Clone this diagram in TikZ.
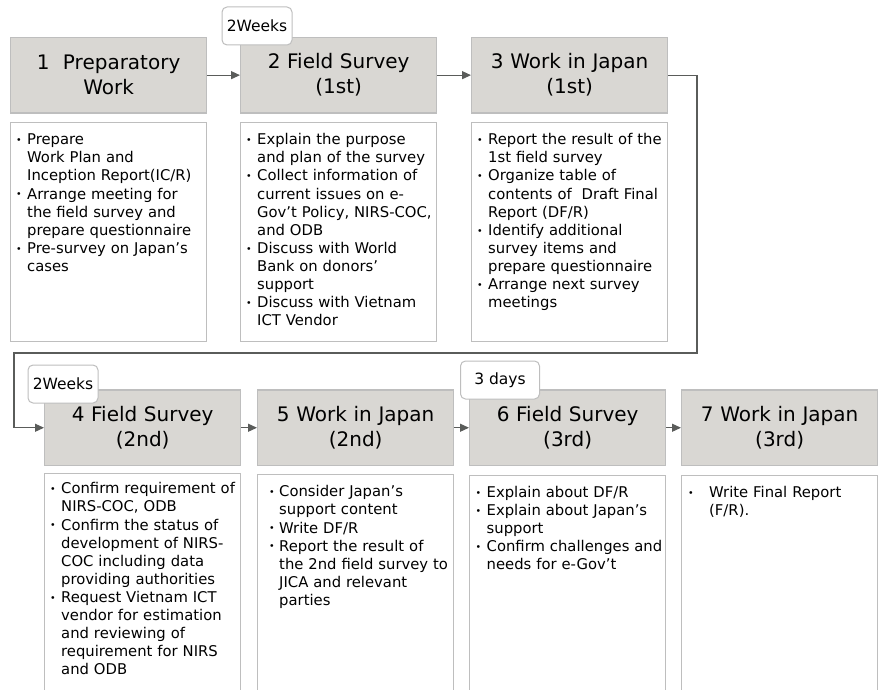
\documentclass[tikz,border=0pt]{standalone}
\usepackage{fontspec}
\setmainfont{DejaVu Sans}
\usetikzlibrary{arrows.meta, positioning}

\definecolor{headfill}{RGB}{217,215,211}
\definecolor{edgegray}{RGB}{190,190,190}
\definecolor{linkgray}{RGB}{90,92,90}

% bullet item with hanging indent
\newcommand{\itm}[1][11pt]{\par\hangindent=#1\hangafter=1\noindent\makebox[#1][l]{\raisebox{1.2pt}{\fontsize{9.5}{9.5}\selectfont\textbullet}}\ignorespaces}

\begin{document}
\begin{tikzpicture}[x=1pt, y=-1pt,
  stephead/.style={draw=edgegray, line width=1.3pt, fill=headfill, minimum width=196pt, minimum height=75.6pt,
    text width=190pt, align=center, inner sep=0pt, anchor=north west, font=\fontsize{20}{25}\selectfont},
  notebox/.style={draw=edgegray, line width=1.2pt, minimum width=196pt, inner sep=0pt, anchor=north west},
  notetext/.style={anchor=north west, text width=190pt, inner sep=0pt, font=\fontsize{14.8}{18.1}\selectfont},
  timetag/.style={draw=edgegray, line width=1pt, fill=white, rounded corners=5pt, minimum height=38pt,
    inner sep=0pt, font=\fontsize{15.5}{18}\selectfont},
  flow/.style={draw=linkgray, line width=1.2pt, -{Triangle[length=9pt, width=8pt]}}]
  \useasboundingbox (0,0) rectangle (878,690);
  \clip (0,0) rectangle (878,690);

  % First row of steps
  \node[stephead] (s1) at (10,36.7) {1\ \ Preparatory\\Work};
  \node[stephead] (s2) at (240,36.7) {2 Field Survey\\(1st)};
  \node[stephead] (s3) at (471,36.7) {3 Work in Japan\\(1st)};

  \node[notebox, minimum height=219pt] (n1) at (10,122) {};
  \node[notebox, minimum height=219pt] (n2) at (240,122) {};
  \node[notebox, minimum height=219pt] (n3) at (471,122) {};

  \node[notetext] (t1) at ([shift={(6,4.5)}]n1.north west) {%
    \itm Prepare\newline Work Plan and\newline Inception Report(IC/R)
    \itm Arrange meeting for\newline the field survey and\newline prepare questionnaire
    \itm Pre-survey on Japan’s\newline cases\par};
  \node[notetext] (t2) at ([shift={(6,4.5)}]n2.north west) {%
    \itm Explain the purpose\newline and plan of the survey
    \itm Collect information of\newline current issues on e-\newline Gov’t Policy, NIRS-COC,\newline and ODB
    \itm Discuss with World\newline Bank on donors’\newline support
    \itm Discuss with Vietnam\newline ICT Vendor\par};
  \node[notetext] (t3) at ([shift={(6,4.5)}]n3.north west) {%
    \itm Report the result of the\newline 1st field survey
    \itm Organize table of\newline contents of\ \ Draft Final\newline Report (DF/R)
    \itm Identify additional\newline survey items and\newline prepare questionnaire
    \itm Arrange next survey\newline meetings\par};

  % Second row of steps
  \node[stephead] (s4) at (44,389.3) {4 Field Survey\\(2nd)};
  \node[stephead] (s5) at (257,389.3) {5 Work in Japan\\(2nd)};
  \node[stephead] (s6) at (469,389.3) {6 Field Survey\\(3rd)};
  \node[stephead] (s7) at (681,389.3) {7 Work in Japan\\(3rd)};

  \node[notebox, minimum height=240pt] (n4) at (44,472.5) {};
  \node[notebox, minimum height=240pt] (n5) at (257,473.5) {};
  \node[notebox, minimum height=240pt] (n6) at (469,475) {};
  \node[notebox, minimum height=240pt] (n7) at (681,475) {};

  \node[notetext] (t4) at ([shift={(6,3)}]n4.north west) {%
    \itm Confirm requirement of\newline NIRS-COC, ODB
    \itm Confirm the status of\newline development of NIRS-\newline COC including data\newline providing authorities
    \itm Request Vietnam ICT\newline vendor for estimation\newline and reviewing of\newline requirement for NIRS\newline and ODB\par};
  \node[notetext] (t5) at ([shift={(12,5)}]n5.north west) {%
    \itm[10pt] Consider Japan’s\newline support content
    \itm[10pt] Write DF/R
    \itm[10pt] Report the result of\newline the 2nd field survey to\newline JICA and relevant\newline parties\par};
  \node[notetext] (t6) at ([shift={(6.5,4)}]n6.north west) {%
    \itm Explain about DF/R
    \itm Explain about Japan’s\newline support
    \itm Confirm challenges and\newline needs for e-Gov’t\par};
  \node[notetext] (t7) at ([shift={(7,4)}]n7.north west) {%
    \itm[21pt] Write Final Report\newline (F/R).\par};

  % Connectors
  \draw[flow] (s1.east) -- (s2.west);
  \draw[flow] (s2.east) -- (s3.west);
  \coordinate (bendR) at (697,353);
  \coordinate (bendL) at (14,353);
  \draw[flow] (s3.east) -| (bendR) -- (bendL) |- (s4.west);
  \draw[flow] (s4.east) -- (s5.west);
  \draw[flow] (s5.east) -- (s6.west);
  \draw[flow] (s6.east) -- (s7.west);

  % Duration tags
  \node[timetag, minimum width=70pt] (w1) at (257,26) {2Weeks};
  \node[timetag, minimum width=70pt] (w2) at (63,384) {2Weeks};
  \node[timetag, minimum width=79pt] (w3) at (500,380) {3 days};
\end{tikzpicture}
\end{document}
